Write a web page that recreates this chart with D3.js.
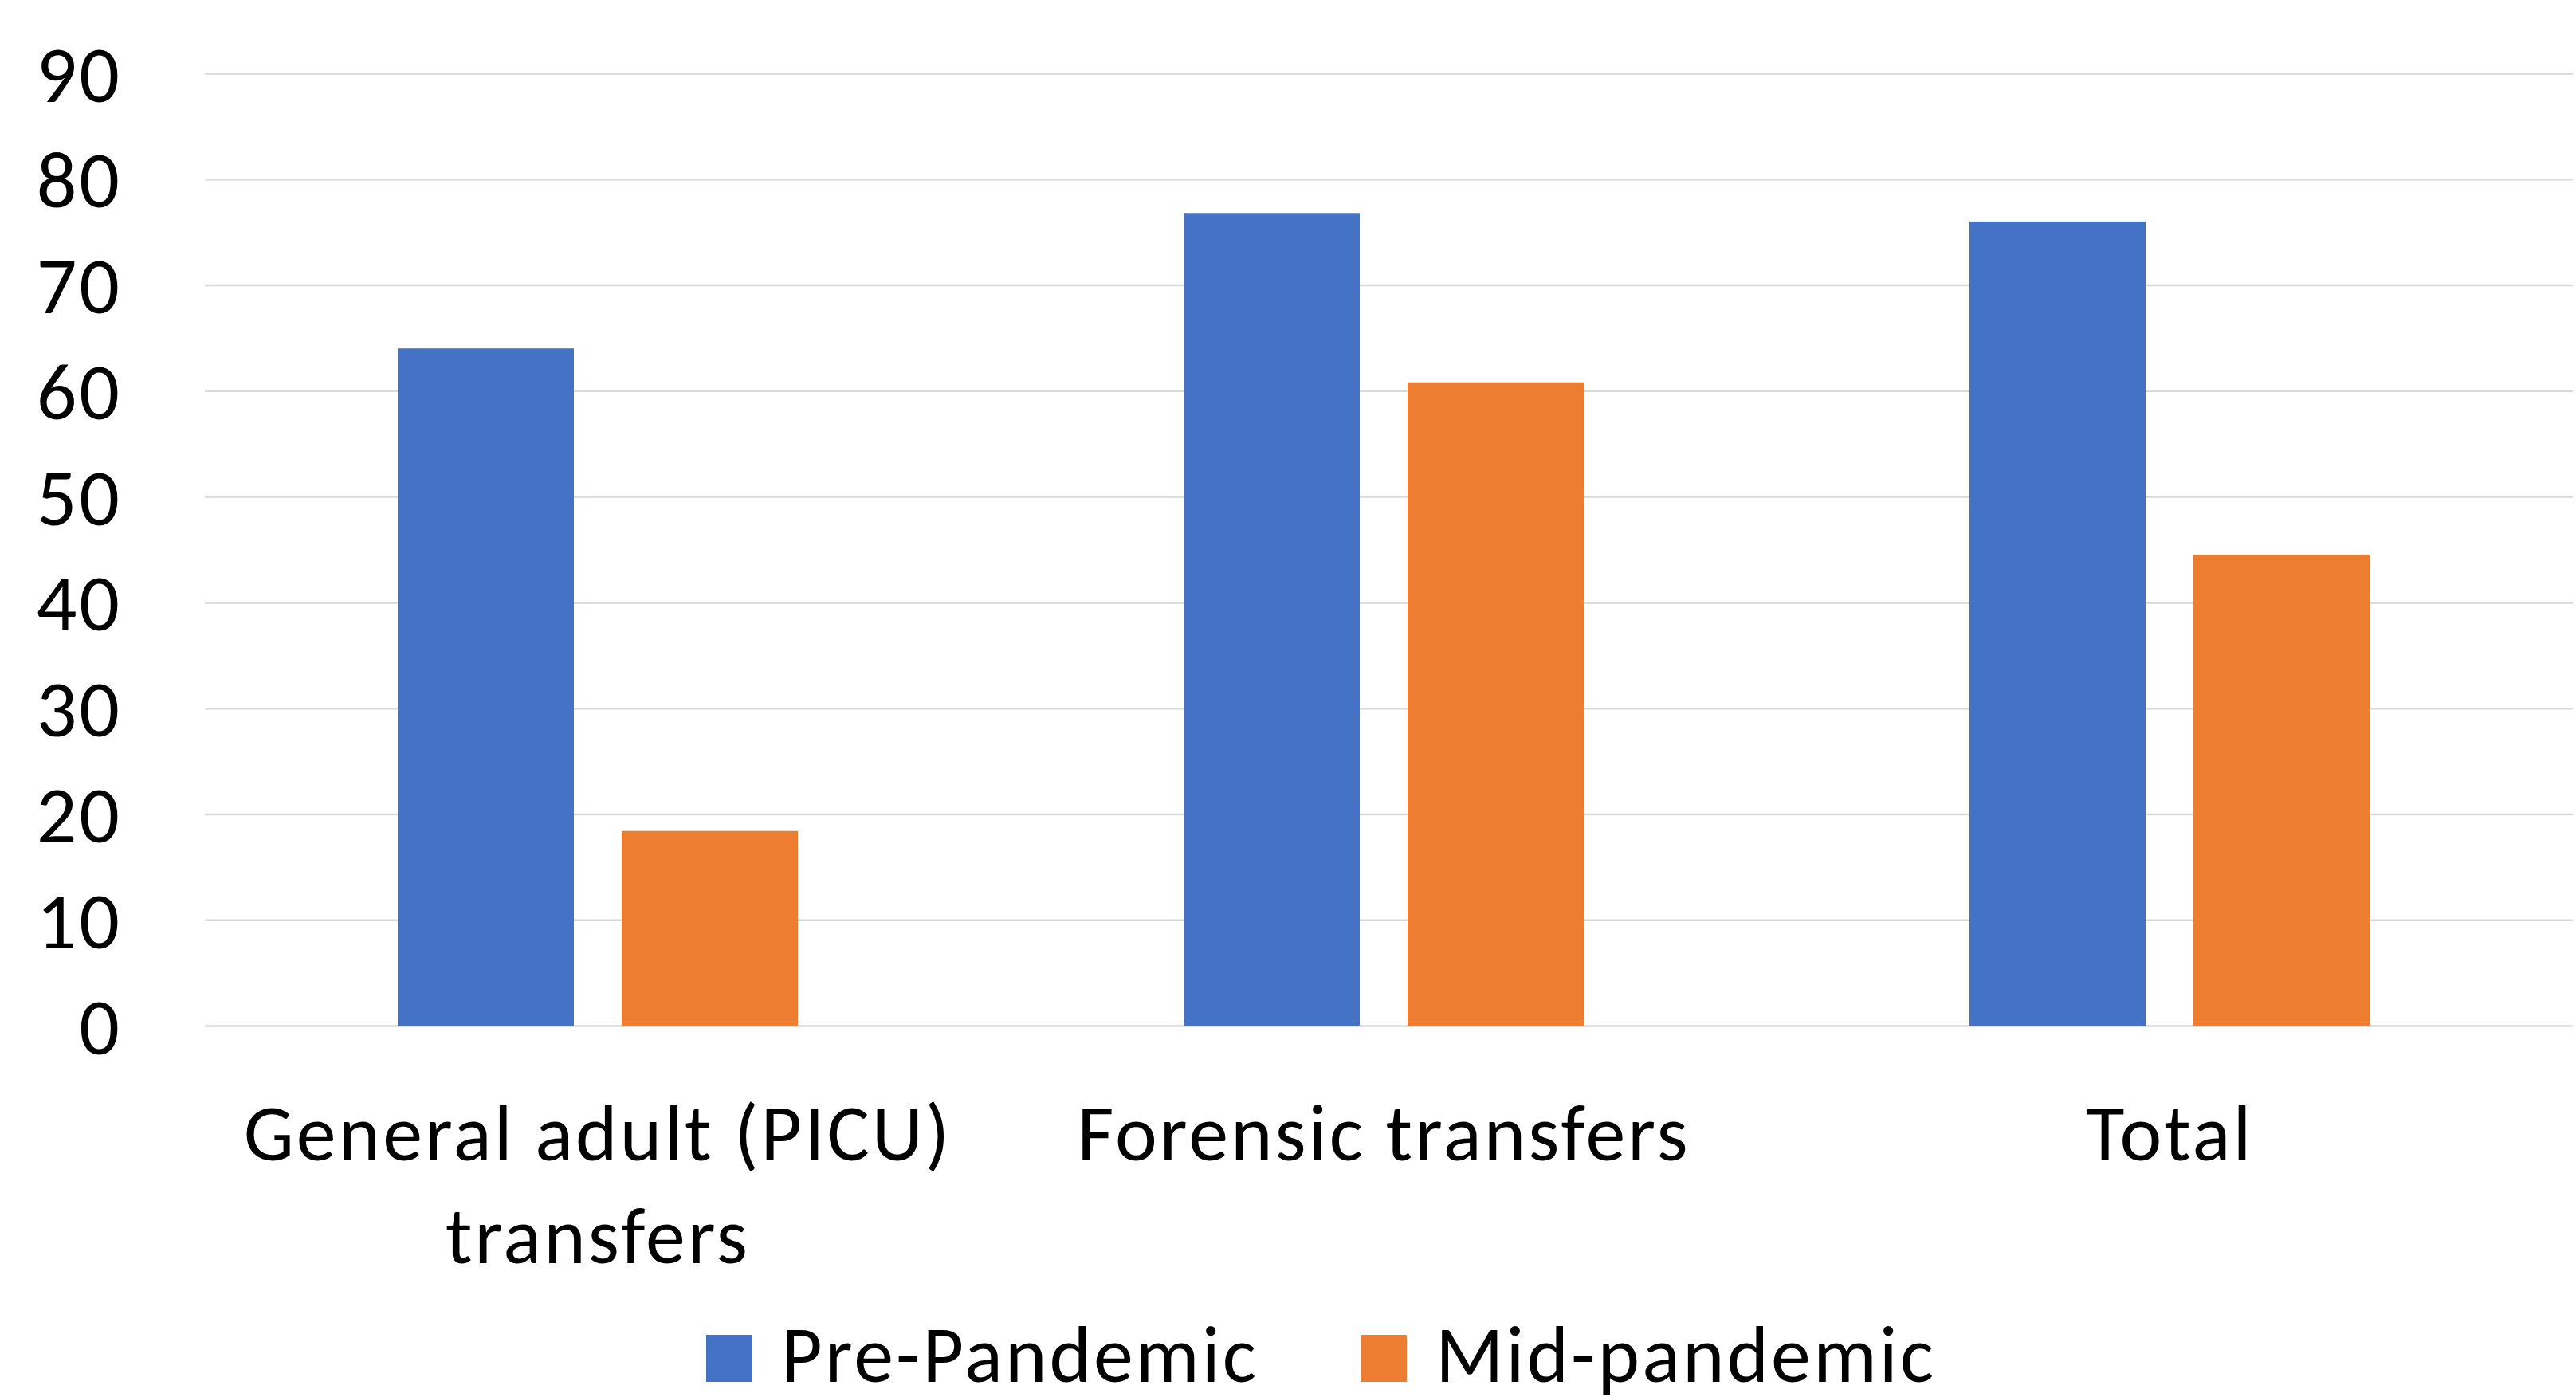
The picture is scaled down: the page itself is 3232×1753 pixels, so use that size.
<!DOCTYPE html>
<html>
<head>
<meta charset="utf-8">
<script src="https://cdn.jsdelivr.net/npm/d3@7"></script>
<style>
  html, body { margin: 0; padding: 0; background: #fff; }
  svg text { font-family: Carlito, Calibri, Lato, sans-serif; fill: #000; letter-spacing: 3px; }
</style>
</head>
<body>
<div id="container"></div>
<script>
const categories = ["General adult (PICU) transfers", "Forensic transfers", "Total"];
const categoryLines = [["General adult (PICU)", "transfers"], ["Forensic transfers"], ["Total"]];
const seriesNames = ["Pre-Pandemic", "Mid-pandemic"];
const prePandemic = [64, 76.8, 76];
const midPandemic = [18.4, 60.8, 44.5];
const yTicks = [0, 10, 20, 30, 40, 50, 60, 70, 80, 90];
const colors = ["#4472c4", "#ed7d31"];

const width = 3232;
const height = 1753;
const plotLeft = 257, plotRight = 3215, gridRight = 3228, plotTop = 92, plotBottom = 1287;
const fontSize = 100;

const svg = d3.select("#container")
  .append("svg")
  .attr("width", width)
  .attr("height", height);

const x = d3.scaleBand().domain(categories).range([plotLeft, plotRight]);
const groupW = 502;
const x1 = d3.scaleBand()
  .domain(seriesNames)
  .range([(x.bandwidth() - groupW) / 2, (x.bandwidth() + groupW) / 2])
  .paddingInner(0.2135);
const y = d3.scaleLinear().domain([0, 90]).range([plotBottom, plotTop]);

// gridlines
svg.append("g")
  .attr("transform", `translate(${plotLeft},0)`)
  .call(d3.axisLeft(y).tickValues(yTicks).tickSize(-(gridRight - plotLeft)).tickFormat(""))
  .call(g => g.select(".domain").remove())
  .call(g => g.selectAll("line").attr("stroke", "#d9d9d9").attr("stroke-width", 2.5));

// y labels
svg.append("g")
  .attr("transform", `translate(153,0)`)
  .call(d3.axisLeft(y).tickValues(yTicks).tickSize(0).tickPadding(0))
  .call(g => g.select(".domain").remove())
  .call(g => g.selectAll("text")
    .attr("font-size", fontSize)
    .attr("dy", "0.35em")
    .attr("fill", "#000")
    .style("font-family", "Carlito, Calibri, Lato, sans-serif"));

// bars
const rows = categories.map((c, i) => ({ cat: c, values: [prePandemic[i], midPandemic[i]] }));
const groups = svg.append("g").selectAll("g")
  .data(rows)
  .join("g")
  .attr("transform", d => `translate(${x(d.cat)},0)`);

groups.selectAll("rect")
  .data(d => d.values.map((v, j) => ({ name: seriesNames[j], value: v, j })))
  .join("rect")
  .attr("x", d => x1(d.name))
  .attr("width", x1.bandwidth())
  .attr("y", d => y(d.value))
  .attr("height", d => y(0) - y(d.value))
  .attr("fill", d => colors[d.j]);

// category labels
const labels = svg.append("g").selectAll("text")
  .data(categories)
  .join("text")
  .attr("x", d => x(d) + x.bandwidth() / 2)
  .attr("y", 1456)
  .attr("text-anchor", "middle")
  .attr("font-size", fontSize);

labels.selectAll("tspan")
  .data((d, i) => categoryLines[i])
  .join("tspan")
  .attr("x", function() { return this.parentNode.getAttribute("x"); })
  .attr("dy", (d, i) => i === 0 ? 0 : 129)
  .text(d => d);

// legend
const legendX = [886, 1707];
const legend = svg.append("g").selectAll("g")
  .data(seriesNames)
  .join("g")
  .attr("transform", (d, i) => `translate(${legendX[i]},0)`);

legend.append("rect")
  .attr("x", 0)
  .attr("y", 1675)
  .attr("width", 58)
  .attr("height", 59)
  .attr("fill", (d, i) => colors[i]);

legend.append("text")
  .attr("x", 94)
  .attr("y", 1734)
  .attr("font-size", fontSize)
  .text(d => d);
</script>
</body>
</html>
